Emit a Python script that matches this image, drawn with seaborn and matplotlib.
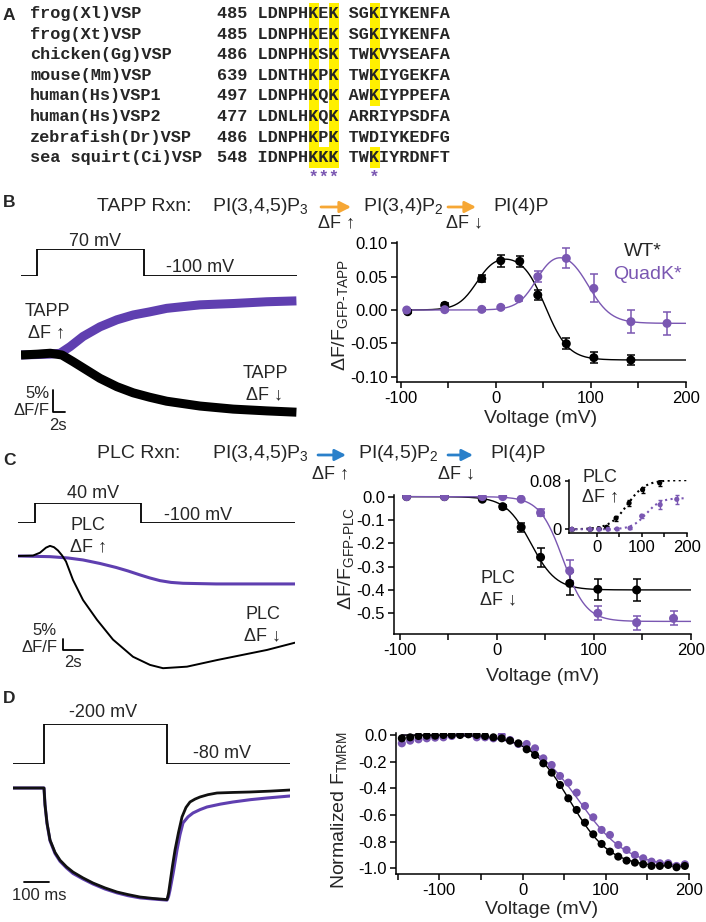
import numpy as np
import pandas as pd
import matplotlib
matplotlib.use("Agg")
import matplotlib.pyplot as plt
import seaborn as sns
from matplotlib.patches import Rectangle

# ======================= DATA =======================
# ---- Panel A: sequence alignment
species = ["frog(Xl)VSP", "frog(Xt)VSP", "chicken(Gg)VSP", "mouse(Mm)VSP",
           "human(Hs)VSP1", "human(Hs)VSP2", "zebrafish(Dr)VSP", "sea squirt(Ci)VSP"]
start_res = [485, 485, 486, 639, 497, 477, 486, 548]
sequences = ["LDNPHKEK SGKIYKENFA", "LDNPHKEK SGKIYKENFA", "LDNPHKSK TWKVYSEAFA",
             "LDNTHKPK TWKIYGEKFA", "LDNPHKQK AWKIYPPEFA", "LDNLHKQK ARRIYPSDFA",
             "LDNPHKPK TWDIYKEDFG", "IDNPHKKK TWKIYRDNFT"]
hl_cols_all = [5, 7]
hl_cols_row = {0: [11], 1: [11], 2: [11], 3: [11], 4: [11], 7: [6, 11]}
star_cols = [5, 6, 7, 11]

# ---- Panel B: TAPP traces (time s, dF/F %)
b_step_t = [0, 2.74, 2.74, 21.0, 21.0, 47.2]
b_step_v = [-100, -100, 70, 70, -100, -100]
b_t_qk = [0, 5, 6.7, 8.4, 10.6, 13.5, 16.4, 19.2, 22, 24.9, 30.6, 36.3, 42, 47.1]
b_tr_qk = [0, 0.2, 0.4, 1.9, 4.2, 6.4, 8.0, 9.1, 9.8, 10.6, 11.4, 11.7, 12.1, 12.3]
b_t_wt = [0, 3, 5, 7, 8.9, 11.2, 13.5, 16.4, 19.2, 22, 24.9, 30.6, 36.3, 42, 47.1]
b_tr_wt = [0, 0.2, 0.4, 0, -1.5, -3.4, -5.3, -7.2, -8.6, -9.6, -10.5, -11.6, -12.3, -12.7, -13.0]

# ---- Panel B: TAPP dF/F vs voltage
tapp_v_wt = [-93, -54, -15, 5, 25, 44, 74, 103, 142]
tapp_wt = [-0.0025, 0.007, 0.047, 0.074, 0.073, 0.0225, -0.0505, -0.0715, -0.075]
tapp_wt_err = [0.002, 0.003, 0.005, 0.009, 0.008, 0.008, 0.008, 0.008, 0.007]
tapp_v_qk = [-94, -54, -15, 5, 24, 44, 74, 103, 142, 180]
tapp_qk = [0.0, 0.0005, 0.001, 0.004, 0.017, 0.050, 0.0775, 0.0325, -0.0175, -0.020]
tapp_qk_err = [0.002, 0.002, 0.002, 0.002, 0.003, 0.008, 0.015, 0.021, 0.017, 0.017]
tapp_fit_wt = dict(a=0.085, v1=-20, k1=10, b=0.16, v2=52, k2=12)
tapp_fit_qk = dict(a=0.095, v1=43, k1=10, b=0.115, v2=97, k2=12)

# ---- Panel C: PLC traces
c_step_t = [0, 1.7, 1.7, 12.3, 12.3, 27.7]
c_step_v = [-100, -100, 40, 40, -100, -100]
c_t_qk = [0, 3.2, 5.0, 6.5, 8.2, 9.8, 11.0, 12.2, 13.2, 14.2, 15.3, 16.5, 19.8, 27.7]
c_tr_qk = [0, -0.3, -0.9, -1.8, -3.4, -5.2, -6.8, -8.6, -10.0, -11.2, -12.0, -12.4, -12.7, -12.7]
c_t_wt = [0, 1.5, 2.2, 2.8, 3.2, 3.6, 4.0, 4.4, 4.8, 5.5, 6.5, 7.9, 9.5, 11.5, 13.2, 14.5, 16.9, 19.9, 24.9, 27.7]
c_tr_wt = [0, 0.2, 1.5, 3.8, 4.6, 4.0, 2.5, 0.3, -2.5, -10.9, -20, -29, -38, -45.8, -49.5, -51, -50.3, -47.3, -42.7, -39.4]

# ---- Panel C: PLC dF/F vs voltage
plc_v_wt = [-93, -54, -15, 6, 25, 45, 75, 104, 144]
plc_wt = [0.0, 0.0, -0.011, -0.043, -0.131, -0.26, -0.372, -0.397, -0.40]
plc_wt_err = [0.003, 0.003, 0.005, 0.008, 0.02, 0.04, 0.048, 0.045, 0.048]
plc_v_qk = [-93, -54, -15, 6, 25, 45, 75, 104, 144, 182]
plc_qk = [0.0, 0.0, 0.0, 0.0, -0.011, -0.069, -0.318, -0.50, -0.54, -0.522]
plc_qk_err = [0.003, 0.003, 0.003, 0.003, 0.005, 0.015, 0.045, 0.03, 0.03, 0.03]
plc_fit_wt = dict(amp=-0.40, vh=35, k=13)
plc_fit_qk = dict(amp=-0.535, vh=68, k=12)

# ---- Panel C inset (PLC dF up)
ins_v_wt = [-55, -15, 5, 22, 43, 72, 102, 140]
ins_wt = [0.0, 0.0, 0.001, 0.0034, 0.0185, 0.0437, 0.066, 0.0773]
ins_wt_err = [0.001, 0.001, 0.001, 0.002, 0.004, 0.005, 0.005, 0.005]
ins_v_qk = [-55, -15, 5, 25, 45, 74, 100, 141, 178]
ins_qk = [0.0, 0.0, 0.0, 0.0, 0.0005, 0.002, 0.022, 0.041, 0.050]
ins_qk_err = [0.001, 0.001, 0.001, 0.001, 0.001, 0.002, 0.004, 0.008, 0.007]
ins_fit_wt = dict(amp=0.082, vh=68, k=20)
ins_fit_qk = dict(amp=0.052, vh=110, k=16)

# ---- Panel D: TMRM traces (time ms, normalized F)
d_step_t = [0, 124, 124, 616, 616, 1108]
d_step_v = [-80, -80, -200, -200, -80, -80]
d_t_wt = [0, 124, 128, 136, 148, 168, 188, 214, 240, 280, 320, 368, 416, 460, 508, 560, 616,
          622, 628, 638, 648, 662, 676, 692, 708, 728, 748, 780, 816, 880, 948, 1030, 1108]
d_tr_wt = [0, 0, -0.15, -0.315, -0.468, -0.58, -0.65, -0.71, -0.757, -0.81, -0.856, -0.90,
           -0.937, -0.96, -0.982, -0.995, -1.005, -0.95, -0.856, -0.70, -0.559, -0.40, -0.261,
           -0.175, -0.126, -0.10, -0.081, -0.06, -0.045, -0.04, -0.036, -0.028, -0.018]
d_t_qk = [0, 124, 128, 136, 148, 168, 188, 214, 240, 280, 320, 368, 416, 460, 508, 560, 616,
          622, 628, 642, 656, 668, 680, 700, 720, 748, 776, 830, 880, 950, 1016, 1108]
d_tr_qk = [0, 0, -0.15, -0.32, -0.475, -0.59, -0.66, -0.72, -0.77, -0.82, -0.865, -0.91,
           -0.945, -0.97, -0.99, -1.0, -1.01, -0.98, -0.92, -0.75, -0.559, -0.42, -0.315,
           -0.26, -0.225, -0.195, -0.171, -0.145, -0.126, -0.105, -0.09, -0.072]

# ---- Panel D: normalized F_TMRM vs voltage
d_v = [-145, -135, -125, -115, -105, -95, -85, -75, -65, -55, -45, -35, -25, -15, -5, 5, 15,
       25, 35, 45, 55, 65, 75, 85, 95, 105, 115, 125, 135, 145, 155, 165, 175, 185, 195]
d_wt = [-0.025, -0.0175, -0.0075, -0.005, -0.005, 0.0, 0.0, 0.0, 0.005, 0.0, -0.0075, -0.0175,
        -0.025, -0.0425, -0.0625, -0.1075, -0.15, -0.2125, -0.2825, -0.375, -0.475, -0.5625,
        -0.6575, -0.745, -0.8175, -0.875, -0.9125, -0.9425, -0.9575, -0.97, -0.9825, -0.9825,
        -0.975, -0.9925, -0.9825]
d_qk = [-0.0625, -0.0425, -0.0325, -0.025, -0.02, -0.0175, -0.0075, 0.0125, 0.0075, -0.0175,
        -0.0175, -0.025, 0.0, -0.0375, -0.0675, -0.0675, -0.10, -0.175, -0.225, -0.3075,
        -0.3575, -0.4325, -0.5325, -0.6175, -0.7125, -0.75, -0.825, -0.8625, -0.90, -0.925,
        -0.95, -0.9625, -0.9625, -0.9825, -0.97]
d_fit_wt = dict(amp=-0.99, vh=57, k=24)
d_fit_qk = dict(amp=-0.99, vh=68, k=28.7)

# ======================= STYLE =======================
sns.set_theme(style="ticks")
plt.rcParams['font.family'] = ['Liberation Sans', 'DejaVu Sans']
plt.rcParams.update({
    'mathtext.default': 'regular',
    'axes.unicode_minus': False,
    'axes.linewidth': 1.1,
    'xtick.major.width': 1.1, 'ytick.major.width': 1.1,
    'xtick.major.size': 4.5, 'ytick.major.size': 4.5,
    'xtick.labelsize': 12, 'ytick.labelsize': 12,
    'xtick.major.pad': 2, 'ytick.major.pad': 2,
    'xtick.color': 'black', 'ytick.color': 'black',
    'axes.edgecolor': 'black',
})
BLACK = '#000000'
PURPLE = '#7A57B2'
TRACE_PURPLE = '#5F3FB0'
YELLOW = '#FFF000'
ORANGE = '#F6A735'
BLUE = '#2A80CA'
MONO = ['Liberation Mono', 'DejaVu Sans Mono']
FS = 13
FT = 14

W, H = 706, 922
fig = plt.figure(figsize=(W / 100, H / 100), dpi=100)
bg = fig.add_axes([0, 0, 1, 1], zorder=0)
bg.set_xlim(0, W)
bg.set_ylim(H, 0)
bg.axis('off')


def add_ax(l, t, r, b):
    ax = fig.add_axes([l / W, 1 - b / H, (r - l) / W, (b - t) / H], zorder=2)
    ax.set_facecolor('none')
    return ax


def T(x, y, s, **kw):
    kw.setdefault('fontsize', FS)
    kw.setdefault('ha', 'center')
    kw.setdefault('va', 'center')
    bg.text(x, y, s, **kw)


def boltz(v, amp, vh, k):
    return amp / (1 + np.exp(-(v - vh) / k))


def bell(v, a, v1, k1, b, v2, k2):
    return boltz(v, a, v1, k1) - boltz(v, b, v2, k2)


# ======================= PANEL A =======================
fs_seq = 12.2
cw = fs_seq * 0.6 * 100 / 72
row_y0, row_dy = 13.5, 20.6
x_name, x_num = 30, 217
for i, (name, st, seq) in enumerate(zip(species, start_res, sequences)):
    y = row_y0 + i * row_dy
    for c in hl_cols_all + hl_cols_row.get(i, []):
        bg.add_patch(Rectangle((x_num + (4 + c) * cw, y - row_dy / 2), cw, row_dy,
                               color=YELLOW, lw=0, zorder=0))
    bg.text(x_name, y, name, family=MONO, weight='bold', fontsize=fs_seq, va='center', ha='left')
    bg.text(x_num, y, f"{st} {seq}", family=MONO, weight='bold', fontsize=fs_seq,
            va='center', ha='left')
star_line = "".join("*" if i in star_cols else " " for i in range(max(star_cols) + 1))
bg.text(x_num + 4 * cw, 178, star_line, family=MONO, fontsize=fs_seq, weight='bold',
        color=PURPLE, va='center', ha='left')
for lab, y in [('A', 15), ('B', 202), ('C', 460), ('D', 698)]:
    bg.text(3, y, lab, weight='bold', fontsize=12.5, va='center', ha='left')


def arrow(x0, x1, y, color):
    bg.annotate('', xy=(x1, y), xytext=(x0, y),
                arrowprops=dict(arrowstyle='-|>,head_length=0.55,head_width=0.28',
                                color=color, lw=2, shrinkA=0, shrinkB=0))


# ======================= PANEL B =======================
T(97, 206, 'TAPP Rxn:', ha='left', fontsize=FT)
T(212, 206, 'PI(3,4,5)P$_3$', ha='left', fontsize=FT)
arrow(321, 351, 207, ORANGE)
T(336, 223, 'ΔF ↑')
T(363, 206, 'PI(3,4)P$_2$', ha='left', fontsize=FT)
arrow(448, 476, 207, ORANGE)
T(465, 223, 'ΔF ↓')
T(493, 206, 'PI(4)P', ha='left', fontsize=FT)

ax = add_ax(21, 249, 297, 276)
sns.lineplot(x=b_step_t, y=b_step_v, sort=False, estimator=None, color=BLACK, lw=1.3, ax=ax)
ax.set_xlim(0, 47.2); ax.set_ylim(-100, 70); ax.axis('off')
T(95, 241, '70 mV')
T(200, 267, '-100 mV')

ax = add_ax(21, 285, 297, 425)
sns.lineplot(x=b_t_qk, y=b_tr_qk, sort=False, estimator=None, color=TRACE_PURPLE, lw=6.5, ax=ax,
             solid_capstyle='butt')
sns.lineplot(x=b_t_wt, y=b_tr_wt, sort=False, estimator=None, color=BLACK, lw=6.5, ax=ax,
             solid_capstyle='butt')
ax.plot([5.47, 5.47, 7.47], [-7.95, -12.95, -12.95], color=BLACK, lw=1.3)
ax.set_xlim(0, 47.2); ax.set_ylim(-(425 - 355) / 4.4, (355 - 285) / 4.4); ax.axis('off')
T(47, 311, 'TAPP')
T(47, 333, 'ΔF ↑')
T(265, 373, 'TAPP')
T(264, 395, 'ΔF ↓')
T(50, 393, '5%', ha='right', fontsize=12)
T(50, 410, 'ΔF/F', ha='right', fontsize=12)
T(58, 425, '2s', fontsize=12)

ax = add_ax(397, 241.7, 686, 382)
vv = np.linspace(-95, 200, 300)
sns.lineplot(x=vv, y=bell(vv, **tapp_fit_wt), color=BLACK, lw=1, ax=ax)
sns.lineplot(x=vv, y=bell(vv, **tapp_fit_qk), color=PURPLE, lw=1, ax=ax)
for vx, vy, ve, col in [(tapp_v_wt, tapp_wt, tapp_wt_err, BLACK), (tapp_v_qk, tapp_qk, tapp_qk_err, PURPLE)]:
    ax.errorbar(vx, vy, yerr=ve, fmt='none', ecolor=col, elinewidth=1.1, capsize=3, capthick=1.1, zorder=3)
    sns.scatterplot(x=vx, y=vy, color=col, s=42, edgecolor='none', ax=ax, zorder=4)
ax.set_xlim(-104.2, 200); ax.set_ylim(-0.108, 0.1025)
ax.set_xticks([-100, -50, 0, 50, 100, 150, 200])
ax.set_xticklabels(['-100', '', '0', '', '100', '', '200'])
ax.set_yticks([-0.10, -0.05, 0.0, 0.05, 0.10])
ax.set_yticklabels(['-0.10', '-0.05', '0.00', '0.05', '0.10'])
sns.despine(ax=ax)
T(541, 418, 'Voltage (mV)', fontsize=FT)
T(340, 315, 'ΔF/F$_{GFP‐TAPP}$', rotation=90, fontsize=FT)
T(643, 251, 'WT*', fontsize=14)
T(647, 274, 'QuadK*', fontsize=14, color=PURPLE)

# ======================= PANEL C =======================
T(97, 453, 'PLC Rxn:', ha='left', fontsize=FT)
T(212, 453, 'PI(3,4,5)P$_3$', ha='left', fontsize=FT)
arrow(318, 346, 455, BLUE)
T(331, 474, 'ΔF ↑')
T(358, 453, 'PI(4,5)P$_2$', ha='left', fontsize=FT)
arrow(448, 473, 455, BLUE)
T(457, 474, 'ΔF ↓')
T(490, 453, 'PI(4)P', ha='left', fontsize=FT)

ax = add_ax(18, 503, 295, 523)
sns.lineplot(x=c_step_t, y=c_step_v, sort=False, estimator=None, color=BLACK, lw=1.3, ax=ax)
ax.set_xlim(0, 27.7); ax.set_ylim(-100, 40); ax.axis('off')
T(93, 493, '40 mV')
T(198, 515, '-100 mV')

ax = add_ax(18, 535, 295, 680)
sns.lineplot(x=c_t_qk, y=c_tr_qk, sort=False, estimator=None, color=TRACE_PURPLE, lw=2.2, ax=ax)
sns.lineplot(x=c_t_wt, y=c_tr_wt, sort=False, estimator=None, color=BLACK, lw=1.4, ax=ax)
ax.plot([4.5, 4.5, 6.5], [-37.7, -42.7, -42.7], color=BLACK, lw=1.3)
ax.set_xlim(0, 27.7); ax.set_ylim(-(680 - 556) / 2.2, (556 - 535) / 2.2); ax.axis('off')
T(88, 525, 'PLC')
T(88, 547, 'ΔF ↑')
T(263, 614, 'PLC')
T(263, 636, 'ΔF ↓')
T(57, 630, '5%', ha='right', fontsize=12)
T(58, 647, 'ΔF/F', ha='right', fontsize=12)
T(73, 662, '2s', fontsize=12)

ax = add_ax(394, 495, 691, 634)
vv = np.linspace(-95, 200, 300)
sns.lineplot(x=vv, y=boltz(vv, **plc_fit_wt), color=BLACK, lw=1, ax=ax)
sns.lineplot(x=vv, y=boltz(vv, **plc_fit_qk), color=PURPLE, lw=1, ax=ax)
for vx, vy, ve, col in [(plc_v_wt, plc_wt, plc_wt_err, BLACK), (plc_v_qk, plc_qk, plc_qk_err, PURPLE)]:
    ax.errorbar(vx, vy, yerr=ve, fmt='none', ecolor=col, elinewidth=1.1, capsize=3, capthick=1.1, zorder=3)
    sns.scatterplot(x=vx, y=vy, color=col, s=42, edgecolor='none', ax=ax, zorder=4)
ax.set_xlim(-106, 200); ax.set_ylim(-0.589, 0.007)
ax.set_xticks([-100, -50, 0, 50, 100, 150, 200])
ax.set_xticklabels(['-100', '', '0', '', '100', '', '200'])
ax.set_yticks([-0.5, -0.4, -0.3, -0.2, -0.1, 0.0])
ax.set_yticklabels(['-0.5', '-0.4', '-0.3', '-0.2', '-0.1', '0.0'])
sns.despine(ax=ax)
T(543, 676, 'Voltage (mV)', fontsize=FT)
T(346, 558, 'ΔF/F$_{GFP‐PLC}$', rotation=90, fontsize=FT)
T(498, 578, 'PLC')
T(498, 600, 'ΔF ↓')

ax = add_ax(569, 480, 687, 533)
vi = np.linspace(-60, 200, 200)
sns.lineplot(x=vi, y=boltz(vi, **ins_fit_wt), color=BLACK, lw=1.5, ls=':', ax=ax)
sns.lineplot(x=vi, y=boltz(vi, **ins_fit_qk), color=PURPLE, lw=1.5, ls=':', ax=ax)
for vx, vy, ve, col in [(ins_v_wt, ins_wt, ins_wt_err, BLACK), (ins_v_qk, ins_qk, ins_qk_err, PURPLE)]:
    ax.errorbar(vx, vy, yerr=ve, fmt='none', ecolor=col, elinewidth=1, capsize=1.5, capthick=1, zorder=3)
    sns.scatterplot(x=vx, y=vy, color=col, s=14, edgecolor='none', ax=ax, zorder=4)
ax.set_xlim(-61.6, 200.7); ax.set_ylim(-0.0062, 0.0822)
ax.set_xticks([0, 50, 100, 150, 200]); ax.set_xticklabels(['0', '', '100', '', '200'])
ax.set_yticks([0, 0.08]); ax.set_yticklabels(['0', '0.08'])
ax.tick_params(labelsize=12, length=3)
sns.despine(ax=ax)
T(600, 477, 'PLC')
T(601, 497, 'ΔF ↑')

# ======================= PANEL D =======================
ax = add_ax(13, 724, 290, 764)
sns.lineplot(x=d_step_t, y=d_step_v, sort=False, estimator=None, color=BLACK, lw=1.3, ax=ax)
ax.set_xlim(0, 1108); ax.set_ylim(-80, -200); ax.axis('off')
T(103, 712, '-200 mV')
T(222, 753, '-80 mV')

ax = add_ax(13, 775, 290, 910)
sns.lineplot(x=d_t_qk, y=d_tr_qk, sort=False, estimator=None, color=TRACE_PURPLE, lw=2.2, ax=ax)
sns.lineplot(x=d_t_wt, y=d_tr_wt, sort=False, estimator=None, color='#111111', lw=2.0, ax=ax)
ax.plot([44, 144], [-0.847, -0.847], color=BLACK, lw=1.3)
ax.set_xlim(0, 1108); ax.set_ylim(-(910 - 788) / 111, (788 - 775) / 111); ax.axis('off')
T(39, 895, '100 ms', fontsize=12)

ax = add_ax(396, 733, 689, 874)
vd = np.linspace(-145, 195, 300)
sns.lineplot(x=vd, y=boltz(vd, **d_fit_qk), color=PURPLE, lw=1, ax=ax)
sns.lineplot(x=vd, y=boltz(vd, **d_fit_wt), color=BLACK, lw=1, ax=ax)
sns.scatterplot(x=d_v, y=d_qk, color=PURPLE, s=34, edgecolor='none', ax=ax, zorder=3)
sns.scatterplot(x=d_v, y=d_wt, color=BLACK, s=34, edgecolor='none', ax=ax, zorder=4)
ax.set_xlim(-152, 200); ax.set_ylim(-1.043, 0.015)
ax.set_xticks([-150, -100, -50, 0, 50, 100, 150, 200])
ax.set_xticklabels(['', '-100', '', '0', '', '100', '', '200'])
ax.set_yticks([-1.0, -0.8, -0.6, -0.4, -0.2, 0.0])
ax.set_yticklabels(['-1.0', '-0.8', '-0.6', '-0.4', '-0.2', '0.0'])
sns.despine(ax=ax)
T(542, 909, 'Voltage (mV)', fontsize=FT)
T(339, 810, 'Normalized F$_{TMRM}$', rotation=90, fontsize=FT)

fig.savefig('out.png', dpi=100)
